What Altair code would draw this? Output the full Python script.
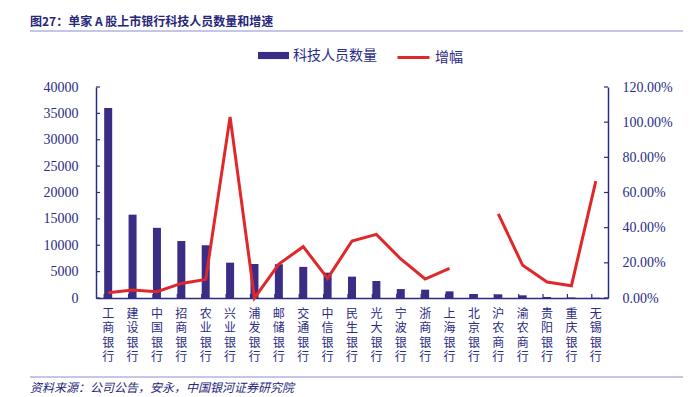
import altair as alt
import pandas as pd

banks = ["工商银行", "建设银行", "中国银行", "招商银行", "农业银行", "兴业银行", "浦发银行",
         "邮储银行", "交通银行", "中信银行", "民生银行", "光大银行", "宁波银行", "浙商银行",
         "上海银行", "北京银行", "沪农商行", "渝农商行", "贵阳银行", "重庆银行", "无锡银行"]
staff = [36000, 15800, 13300, 10800, 10000, 6700, 6450, 6400, 5900, 4800, 4050,
         3220, 1700, 1580, 1260, 760, 700, 510, 190, 100, 50]
growth = [0.030, 0.045, 0.036, 0.083, 0.106, 1.03, 0.0, 0.193, 0.292, 0.112, 0.324,
          0.362, 0.222, 0.108, 0.169, None, 0.478, 0.186, 0.091, 0.070, 0.665]
left_ticks = [0, 5000, 10000, 15000, 20000, 25000, 30000, 35000, 40000]
right_ticks = [0, 0.2, 0.4, 0.6, 0.8, 1.0, 1.2]

title_text = "图27：单家 A 股上市银行科技人员数量和增速"
source_text = "资料来源：公司公告，安永，中国银河证券研究院"

NAVY = "#2b2b85"
BAR = "#3b2d85"
RED = "#e0282b"
SERIF = "Liberation Serif, Noto Sans CJK SC"
CJK = "Noto Sans CJK SC"
W, H = 512, 211

bar_df = pd.DataFrame({"bank": banks, "staff": staff, "s1": "科技人员数量"})
rows = []
seg = 0
for b, g in zip(banks, growth):
    if g is None:
        seg += 1
        continue
    rows.append({"bank": b, "growth": g, "seg": seg, "s2": "增幅"})
line_df = pd.DataFrame(rows)

left_axis = alt.Axis(title=None, values=left_ticks, format="d", ticks=False, labelPadding=18,
                     labelFont=SERIF, labelFontSize=14, labelColor=NAVY,
                     domainColor=NAVY, domainWidth=1.5, grid=False)
right_axis = alt.Axis(title=None, orient="right", values=right_ticks, format=".2%",
                      ticks=False, labelPadding=14, labelFont=SERIF, labelFontSize=14,
                      labelColor=NAVY, domainColor=NAVY, domainWidth=1.5, grid=False)
left_scale = alt.Scale(domain=[0, 40000], nice=False)
right_scale = alt.Scale(domain=[0, 1.2], nice=False)

xenc = alt.X("bank:N", sort=banks, scale=alt.Scale(domain=banks, paddingInner=0.67, paddingOuter=0.335),
             axis=alt.Axis(title=None, labelAngle=0, labelExpr="split(datum.label, '')",
                           labelLineHeight=14.5, labelFontSize=12, labelFont=CJK, labelColor=NAVY,
                           labelBaseline="top", labelPadding=10, ticks=False,
                           domainColor=NAVY, domainWidth=1.5))

bars = alt.Chart(bar_df).mark_bar(size=8).encode(
    x=xenc,
    y=alt.Y("staff:Q", scale=left_scale, axis=left_axis),
    color=alt.Color("s1:N", scale=alt.Scale(domain=["科技人员数量"], range=[BAR]),
                    legend=alt.Legend(orient="none", legendX=162, legendY=-47, title=None,
                                      padding=0, symbolType="M-1,-0.23H1V0.23H-1Z",
                                      symbolSize=961, symbolStrokeWidth=0, labelOffset=4,
                                      labelFont=CJK, labelFontSize=14, labelColor=NAVY)),
)

left_tick_marks = alt.Chart(pd.DataFrame({"v": left_ticks})).mark_rule(color=NAVY, strokeWidth=1.2).encode(
    y=alt.Y("v:Q", scale=left_scale, axis=left_axis),
    x=alt.value(0), x2=alt.value(4),
)

x_tick_marks = alt.Chart(pd.DataFrame({"bank": banks})).mark_rule(color=NAVY, strokeWidth=1.2).encode(
    x=alt.X("bank:N", sort=banks, bandPosition=0),
    y=alt.value(H), y2=alt.value(H - 4),
)

left_layer = alt.layer(bars, left_tick_marks, x_tick_marks)

line = alt.Chart(line_df).mark_line(strokeWidth=3).encode(
    x=alt.X("bank:N", sort=banks),
    y=alt.Y("growth:Q", scale=right_scale, axis=right_axis),
    detail="seg:N",
    stroke=alt.Stroke("s2:N", scale=alt.Scale(domain=["增幅"], range=[RED]),
                      legend=alt.Legend(orient="none", legendX=300, legendY=-47, title=None,
                                        padding=0, symbolType="stroke", symbolSize=1024,
                                        symbolStrokeWidth=3, labelOffset=4,
                                        labelFont=CJK, labelFontSize=14, labelColor=NAVY)),
)

right_tick_marks = alt.Chart(pd.DataFrame({"v": right_ticks})).mark_rule(color=NAVY, strokeWidth=1.2).encode(
    y=alt.Y("v:Q", scale=right_scale, axis=right_axis),
    x=alt.value(W - 4), x2=alt.value(W),
)

right_layer = alt.layer(line, right_tick_marks)

deco_df = pd.DataFrame({"t": [title_text]})
title = alt.Chart(deco_df).mark_text(align="left", baseline="middle", font=CJK, fontSize=12,
                                     fontWeight="bold", color="#26267a").encode(
    text="t:N", x=alt.value(-66), y=alt.value(-65))
title_rule = alt.Chart(deco_df).mark_rule(color="#8c8cd0", strokeWidth=1).encode(
    x=alt.value(-66), x2=alt.value(587), y=alt.value(-56))
src_df = pd.DataFrame({"t": [source_text]})
source = alt.Chart(src_df).mark_text(align="left", baseline="middle", font=CJK, fontSize=12,
                                     fontStyle="italic", color="#26267a").encode(
    text="t:N", x=alt.value(-66), y=alt.value(301))
source_rule = alt.Chart(src_df).mark_rule(color="#8c8cd0", strokeWidth=1).encode(
    x=alt.value(-66), x2=alt.value(587), y=alt.value(290))

chart = alt.layer(left_layer, right_layer, title, title_rule, source, source_rule).resolve_scale(
    y="independent"
).properties(
    width=W, height=H,
    autosize=alt.AutoSizeParams(type="none"),
    padding={"left": 88, "top": 79, "right": 79, "bottom": 98},
    background="white",
).configure_view(stroke=None)

chart.save("out.html", embed_options={"renderer": "svg", "actions": False})
